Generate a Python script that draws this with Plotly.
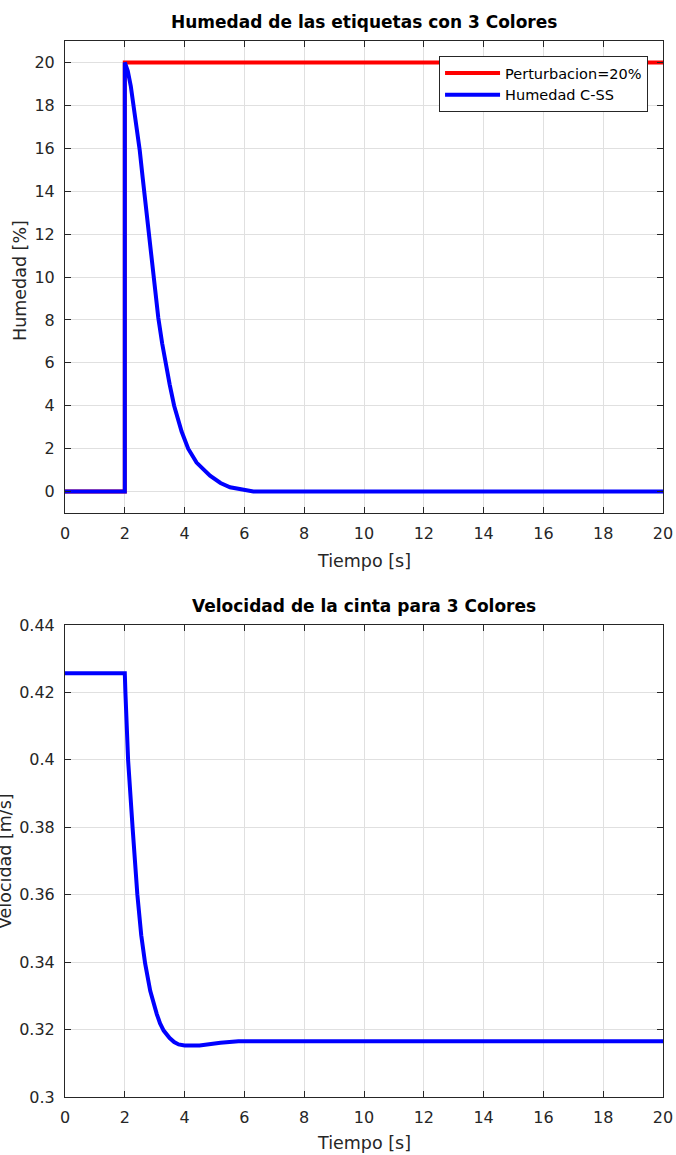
import plotly.graph_objects as go

# ---- data ----
t_pert = [0, 2.0, 2.0, 20]
pert = [0, 0, 20, 20]

t_hum = [0, 2.0, 2.0, 2.1, 2.2, 2.3, 2.4, 2.5, 2.6, 2.7, 2.8, 2.9, 3.0, 3.12, 3.25,
         3.37, 3.5, 3.65, 3.9, 4.12, 4.4, 4.85, 5.2, 5.52, 5.9, 6.3, 20]
hum = [0, 0, 20, 19.6, 18.9, 18.0, 17.0, 15.9, 14.6, 13.3, 12.0, 10.7, 9.4, 8.1, 6.9,
       5.95, 5.0, 4.0, 2.8, 2.0, 1.35, 0.74, 0.4, 0.2, 0.08, 0, 0]

t_vel = [0, 2.0, 2.02, 2.11, 2.26, 2.42, 2.55, 2.68, 2.85, 2.95, 3.07, 3.18, 3.3,
         3.5, 3.65, 3.8, 4.0, 4.5, 4.8, 5.2, 5.8, 20]
vel = [0.4257, 0.4257, 0.42, 0.40, 0.38, 0.36, 0.348, 0.3396, 0.3315, 0.328, 0.3246,
       0.3218, 0.3197, 0.3175, 0.3163, 0.3156, 0.3153, 0.3153, 0.3157, 0.3161, 0.3165,
       0.3165]

x_ticks = [0, 2, 4, 6, 8, 10, 12, 14, 16, 18, 20]
y1_ticks = [0, 2, 4, 6, 8, 10, 12, 14, 16, 18, 20]
y2_ticks = [0.30, 0.32, 0.34, 0.36, 0.38, 0.40, 0.42, 0.44]
y2_labels = ["0.3", "0.32", "0.34", "0.36", "0.38", "0.4", "0.42", "0.44"]

FONT = "DejaVu Sans"
AX = "#262626"
GRID = "#e0e0e0"

fig = go.Figure()
fig.add_trace(go.Scatter(x=t_pert, y=pert, mode="lines", name="Perturbacion=20%",
                         line=dict(color="#ff0000", width=4), xaxis="x", yaxis="y"))
fig.add_trace(go.Scatter(x=t_hum, y=hum, mode="lines", name="Humedad C-SS",
                         line=dict(color="#0000ff", width=4), xaxis="x", yaxis="y"))
fig.add_trace(go.Scatter(x=t_vel, y=vel, mode="lines", name="Velocidad",
                         line=dict(color="#0000ff", width=4), xaxis="x2", yaxis="y2",
                         showlegend=False))

common_axis = dict(showline=True, linecolor=AX, linewidth=1, mirror="ticks",
                   ticks="inside", ticklen=6, tickwidth=1, tickcolor=AX,
                   showgrid=True, gridcolor=GRID, gridwidth=1, zeroline=False,
                   automargin=False, ticklabelstandoff=6,
                   tickfont=dict(family=FONT, size=16, color=AX))

fig.update_layout(
    template="none",
    width=676, height=1155,
    margin=dict(l=65, r=13, t=41, b=58, autoexpand=False),
    paper_bgcolor="white", plot_bgcolor="white",
    font=dict(family=FONT, color=AX),
    xaxis=dict(domain=[0, 1], anchor="y", range=[0, 20], tickvals=x_ticks, **common_axis),
    yaxis=dict(domain=[0.553, 1], anchor="x", range=[-1, 21], tickvals=y1_ticks,
               **common_axis),
    xaxis2=dict(domain=[0, 1], anchor="y2", range=[0, 20], tickvals=x_ticks,
                **common_axis),
    yaxis2=dict(domain=[0, 0.447], anchor="x2", range=[0.3, 0.44], tickvals=y2_ticks,
                ticktext=y2_labels, **common_axis),
    showlegend=True,
    legend=dict(x=0.975, y=0.9858, xanchor="right", yanchor="top",
                bgcolor="white", bordercolor=AX, borderwidth=1,
                font=dict(family=FONT, size=14.5, color="#000000"),
                itemwidth=55, tracegroupgap=0),
)

ann = [
    dict(text="<b>Humedad de las etiquetas con 3 Colores</b>", x=0.5, y=1.018,
         font=dict(size=17, color="#000000")),
    dict(text="<b>Velocidad de la cinta para 3 Colores</b>", x=0.5, y=0.465,
         font=dict(size=17, color="#000000")),
    dict(text="Tiempo [s]", x=0.5, y=0.5076, font=dict(size=17.5, color=AX)),
    dict(text="Tiempo [s]", x=0.5, y=-0.0436, font=dict(size=17.5, color=AX)),
    dict(text="Humedad [%]", x=-0.0753, y=0.7737, textangle=-90,
         font=dict(size=17.5, color=AX)),
    dict(text="Velocidad [m/s]", x=-0.1003, y=0.2235, textangle=-90,
         font=dict(size=17.5, color=AX)),
]
for a in ann:
    a.update(xref="paper", yref="paper", xanchor="center", yanchor="middle",
             showarrow=False)
    a["font"]["family"] = FONT
fig.update_layout(annotations=ann)

fig.write_html("out.html")
